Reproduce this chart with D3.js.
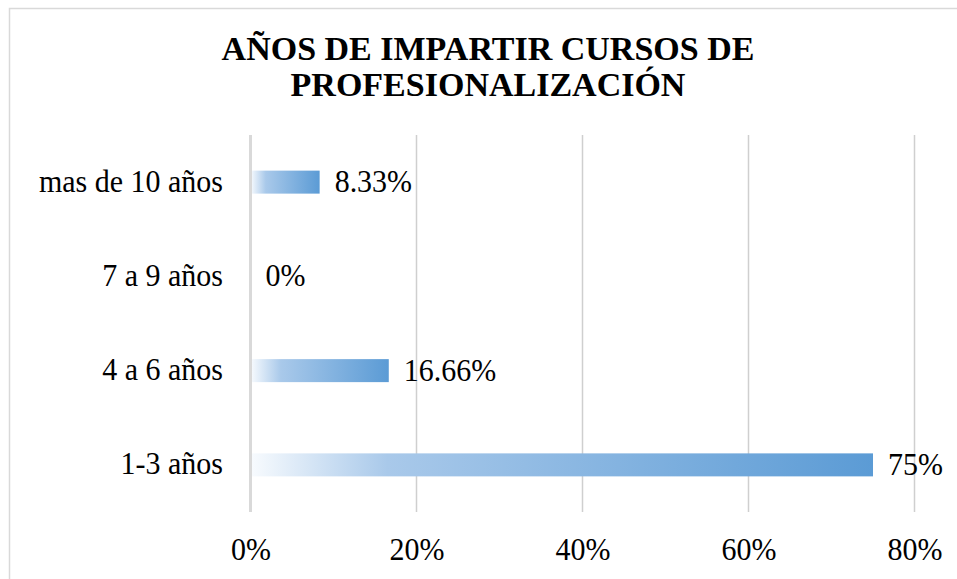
<!DOCTYPE html>
<html>
<head>
<meta charset="utf-8">
<script src="https://cdn.jsdelivr.net/npm/d3@7"></script>
<style>
  html, body { margin: 0; padding: 0; background: #fff; }
  svg { display: block; }
  text { font-family: "Liberation Serif", "Times New Roman", serif; fill: #000; }
</style>
</head>
<body>
<script>
const titleLines = ["AÑOS DE IMPARTIR CURSOS DE", "PROFESIONALIZACIÓN"];
const categories = ["mas de 10 años", "7 a 9 años", "4 a 6 años", "1-3 años"];
const values = [0.0833, 0, 0.1666, 0.75];
const valueLabels = ["8.33%", "0%", "16.66%", "75%"];
const ticks = [0, 0.2, 0.4, 0.6, 0.8];

const W = 957, H = 579;
const SY = 1.07; // slight vertical stretch of the label text, as in the reference
const svg = d3.select("body").append("svg").attr("width", W).attr("height", H);

const defs = svg.append("defs");
const grad = defs.append("linearGradient").attr("id", "barGrad")
  .attr("x1", "0%").attr("x2", "100%").attr("y1", "0%").attr("y2", "0%");
grad.append("stop").attr("offset", "0%").attr("stop-color", "#f8fbfe");
grad.append("stop").attr("offset", "22%").attr("stop-color", "#a9c9ea");
grad.append("stop").attr("offset", "100%").attr("stop-color", "#5b9bd5");

// chart border
svg.append("rect").attr("x", 9.5).attr("y", 8.5).attr("width", 980).attr("height", 620)
  .attr("fill", "none").attr("stroke", "#d9d9d9").attr("stroke-width", 1.5);

// title
svg.append("g").selectAll("text").data(titleLines).join("text")
  .attr("x", 488).attr("y", (d, i) => 60 + i * 36)
  .attr("text-anchor", "middle")
  .attr("font-weight", "bold").attr("font-size", 34)
  .text(d => d);

const x = d3.scaleLinear().domain([0, 0.8]).range([250.5, 914.5]);
const y = d3.scaleBand().domain(categories).range([135, 512])
  .paddingInner(0.756).paddingOuter(0.378);

// gridlines
const grid = svg.append("g");
grid.selectAll("line").data(ticks.slice(1)).join("line")
  .attr("x1", d => x(d)).attr("x2", d => x(d))
  .attr("y1", 135).attr("y2", 512)
  .attr("stroke", "#cfcfcf").attr("stroke-width", 1.5);

// bars
svg.append("g").selectAll("rect").data(values).join("rect")
  .attr("x", x(0))
  .attr("y", (d, i) => y(categories[i]))
  .attr("width", d => x(d) - x(0))
  .attr("height", y.bandwidth())
  .attr("fill", "url(#barGrad)");

// zero axis line
svg.append("line").attr("x1", x(0)).attr("x2", x(0)).attr("y1", 135).attr("y2", 512)
  .attr("stroke", "#d9d9d9").attr("stroke-width", 3);

// category labels
const yAxis = d3.axisLeft(y).tickSize(0).tickPadding(0);
const yg = svg.append("g").attr("transform", `translate(223,0)`).call(yAxis);
yg.select(".domain").remove();
yg.selectAll("text").attr("font-size", 30).attr("x", null)
  .attr("fill", "#000").attr("dy", null)
  .attr("transform", `translate(0,9.5) scale(1,${SY})`);

// x tick labels
const xAxis = d3.axisBottom(x).tickValues(ticks).tickFormat(d3.format(".0%")).tickSize(0).tickPadding(0);
const xg = svg.append("g").attr("transform", `translate(0,0)`).call(xAxis);
xg.select(".domain").remove();
xg.selectAll("text").attr("font-size", 30).attr("y", null)
  .attr("fill", "#000").attr("dy", null)
  .attr("transform", `translate(0,560) scale(1,${SY})`);

// value labels
svg.append("g").selectAll("text").data(values).join("text")
  .attr("transform", (d, i) => `translate(${x(d) + 15},${y(categories[i]) + y.bandwidth() / 2 + 10}) scale(1,${SY})`)
  .attr("font-size", 30)
  .text((d, i) => valueLabels[i]);
</script>
</body>
</html>
